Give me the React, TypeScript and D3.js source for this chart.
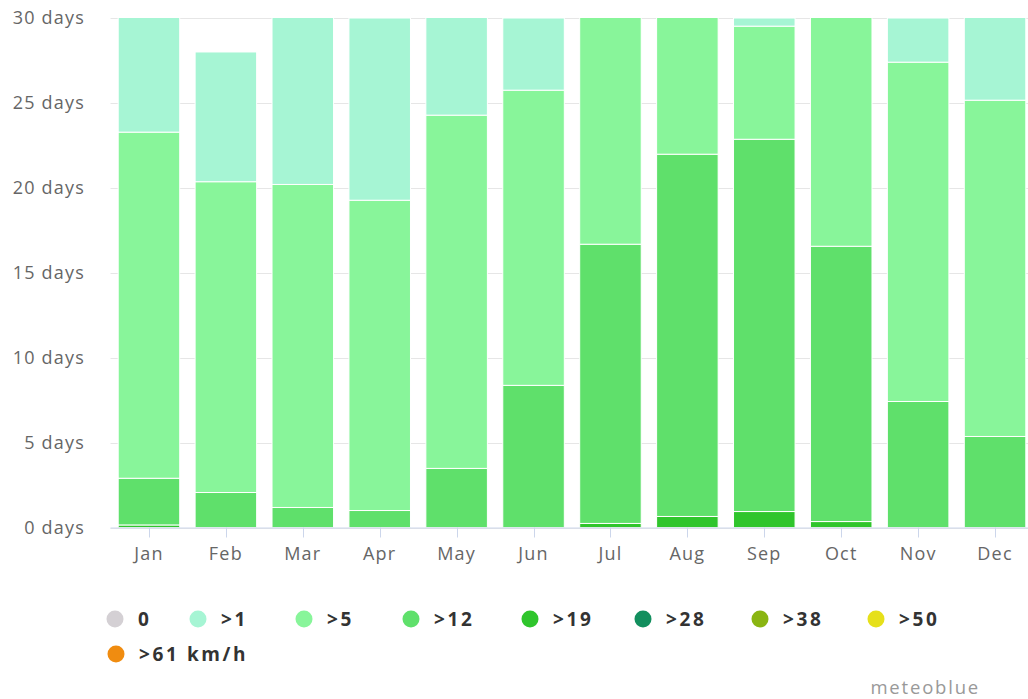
import React, { useEffect, useRef } from "react";
import * as d3 from "d3";

const months = ["Jan","Feb","Mar","Apr","May","Jun","Jul","Aug","Sep","Oct","Nov","Dec"];
const seriesNames = ["0", ">1", ">5", ">12", ">19", ">28", ">38", ">50", ">61 km/h"];
const seriesColors = ["#d4d0d4", "#a6f5d4", "#88f59a", "#5fe06b", "#2fc52c", "#128f5e", "#8ab512", "#e6e01a", "#f08c10"];
const v0 = [0,0,0,0,0,0,0,0,0,0,0,0];
const v1 = [7.7,7.64,10.8,10.73,6.72,4.25,0,0,0.48,0,2.6,5.84];
const v5 = [20.38,18.3,19.02,18.27,20.8,17.38,14.32,9.02,6.66,14.44,19.98,19.8];
const v12 = [2.75,2.06,1.18,1.0,3.48,8.37,16.44,21.33,21.92,16.21,7.42,5.36];
const v19 = [0.15,0,0,0,0,0,0.24,0.65,0.94,0.35,0,0];
const v28 = [0,0,0,0,0,0,0,0,0,0,0,0];
const v38 = [0,0,0,0,0,0,0,0,0,0,0,0];
const v50 = [0,0,0,0,0,0,0,0,0,0,0,0];
const v61 = [0,0,0,0,0,0,0,0,0,0,0,0];
const yTicks = [0,5,10,15,20,25,30];

export default function App() {
  const ref = useRef<SVGSVGElement>(null);
  useEffect(() => {
    const svg = d3.select(ref.current);
    svg.selectAll("*").remove();
    const W = 1028;
    const left = 110.5, right = 1033.5, top = 18, bottom = 527.5;
    const font = "'Open Sans', sans-serif";
    const x = d3.scaleBand().domain(months).range([left, right]).paddingInner(0.2).paddingOuter(0.1);
    const y = d3.scaleLinear().domain([0, 30]).range([bottom, top]);

    const order = [v61, v50, v38, v28, v19, v12, v5, v1, v0];
    const orderIdx = [8,7,6,5,4,3,2,1,0];
    const rows = months.map((m, i) => {
      const r: any = { m };
      order.forEach((arr, k) => { r["s" + k] = arr[i]; });
      return r;
    });
    const stack = d3.stack<any>().keys(order.map((_, k) => "s" + k));
    const stacked = stack(rows);

    const defs = svg.append("defs");
    defs.append("clipPath").attr("id", "plotclip").append("rect")
      .attr("x", left - 10).attr("y", top).attr("width", right - left + 20).attr("height", bottom - top);

    svg.append("g").selectAll("line").data(yTicks).join("line")
      .attr("x1", left).attr("x2", W).attr("y1", d => Math.round(y(d)) + 0.5).attr("y2", d => Math.round(y(d)) + 0.5)
      .attr("stroke", "#e6e6e6").attr("stroke-width", 1);

    const g = svg.append("g").attr("clip-path", "url(#plotclip)");
    stacked.forEach((layer, k) => {
      const color = seriesColors[orderIdx[k]];
      g.append("g").selectAll("rect").data(layer.filter(d => d[1] - d[0] > 0)).join("rect")
        .attr("x", (d: any) => x(d.data.m)!)
        .attr("width", x.bandwidth())
        .attr("y", (d: any) => y(d[1]))
        .attr("height", (d: any) => y(d[0]) - y(d[1]))
        .attr("fill", color)
        .attr("stroke", "#ffffff").attr("stroke-width", 1);
    });

    svg.append("line").attr("x1", left).attr("x2", W).attr("y1", bottom + 0.5).attr("y2", bottom + 0.5)
      .attr("stroke", "#ccd6eb").attr("stroke-width", 1);
    svg.append("g").selectAll("line").data(months).join("line")
      .attr("x1", d => Math.round(x(d)! + x.bandwidth() / 2) + 0.5)
      .attr("x2", d => Math.round(x(d)! + x.bandwidth() / 2) + 0.5)
      .attr("y1", bottom).attr("y2", bottom + 10)
      .attr("stroke", "#ccd6eb");
    svg.append("g").selectAll("text").data(months).join("text")
      .attr("x", d => x(d)! + x.bandwidth() / 2).attr("y", 560)
      .attr("text-anchor", "middle").attr("font-family", font).attr("font-size", 18)
      .attr("letter-spacing", 1.2)
      .attr("fill", "#666666").text(d => d);

    svg.append("g").selectAll("text").data(yTicks).join("text")
      .attr("x", 85).attr("y", d => y(d) + 6)
      .attr("text-anchor", "end").attr("font-family", font).attr("font-size", 18)
      .attr("letter-spacing", 1.2)
      .attr("fill", "#666666").text(d => d + " days");

    const legendPos = [
      [115, 619], [198, 619], [304, 619], [411, 619], [530, 619], [643, 619], [760, 619], [876, 619], [116, 654]
    ];
    const lg = svg.append("g");
    seriesNames.forEach((n, i) => {
      const [cx, cy] = legendPos[i];
      lg.append("circle").attr("cx", cx).attr("cy", cy).attr("r", 8.5).attr("fill", seriesColors[i]);
      lg.append("text").attr("x", cx + 23).attr("y", cy + 6.5)
        .attr("font-family", font).attr("font-size", 19).attr("font-weight", "bold")
        .attr("letter-spacing", 2.6)
        .attr("fill", "#333333").text(n);
    });

    svg.append("text").attr("x", 980).attr("y", 694).attr("text-anchor", "end")
      .attr("font-family", font).attr("font-size", 18.5).attr("letter-spacing", 1.8)
      .attr("fill", "#999999").text("meteoblue");
  }, []);
  return (
    <svg ref={ref} width={1028} height={699}
      style={{ position: "absolute", left: 0, top: 0, background: "#ffffff" }} />
  );
}
